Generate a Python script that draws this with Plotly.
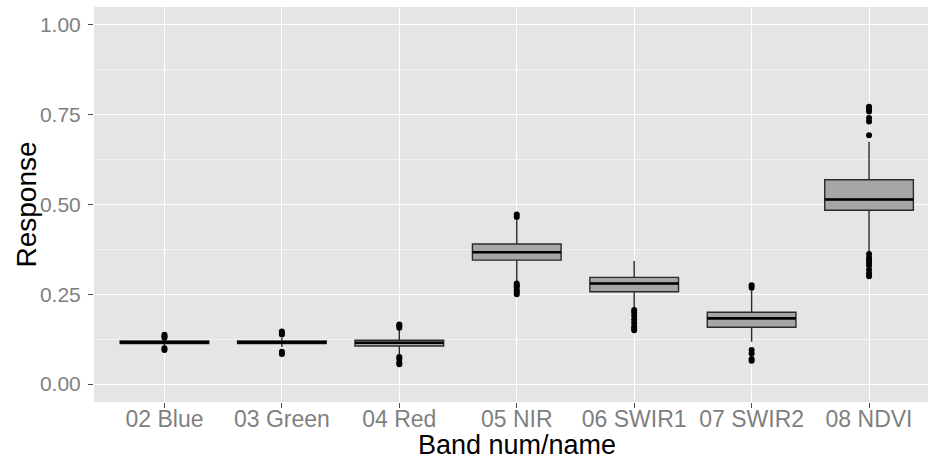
import plotly.graph_objects as go

categories = ["02 Blue", "03 Green", "04 Red", "05 NIR", "06 SWIR1", "07 SWIR2", "08 NDVI"]
q1 = [0.113, 0.113, 0.106, 0.345, 0.257, 0.158, 0.484]
median = [0.116, 0.116, 0.115, 0.367, 0.280, 0.183, 0.514]
q3 = [0.120, 0.120, 0.122, 0.390, 0.297, 0.200, 0.569]
lower_whisker = [0.105, 0.103, 0.082, 0.285, 0.213, 0.118, 0.370]
upper_whisker = [0.126, 0.128, 0.152, 0.456, 0.343, 0.260, 0.675]

outlier_cat = (["02 Blue"] * 5 + ["03 Green"] * 5 + ["04 Red"] * 7 + ["05 NIR"] * 8
               + ["06 SWIR1"] * 8 + ["07 SWIR2"] * 6 + ["08 NDVI"] * 14)
outlier_val = ([0.129, 0.133, 0.137, 0.095, 0.100,
                0.138, 0.142, 0.146, 0.084, 0.090,
                0.157, 0.162, 0.166, 0.075, 0.070, 0.060, 0.055,
                0.465, 0.472, 0.280, 0.275, 0.270, 0.262, 0.256, 0.250,
                0.206, 0.199, 0.190, 0.180, 0.170, 0.160, 0.155, 0.150,
                0.268, 0.275, 0.095, 0.085, 0.070, 0.065,
                0.693, 0.731, 0.741, 0.759, 0.766, 0.772,
                0.362, 0.352, 0.345, 0.338, 0.330, 0.318, 0.308, 0.300])

y_ticks = [0.0, 0.25, 0.5, 0.75, 1.0]
y_ticktext = ["0.00", "0.25", "0.50", "0.75", "1.00"]

box_width = 0.755
xpos = list(range(len(categories)))
cat_index = {c: i for i, c in enumerate(categories)}

fig = go.Figure()
fig.add_trace(go.Box(
    x=xpos, q1=q1, median=median, q3=q3,
    lowerfence=lower_whisker, upperfence=upper_whisker,
    width=box_width, whiskerwidth=0, boxpoints=False,
    fillcolor="#a6a6a6", line=dict(color="#2b2b2b", width=1.4),
    showlegend=False, hoverinfo="skip",
))
# thicker median bars
mx, my = [], []
for i, m in enumerate(median):
    mx += [i - box_width / 2, i + box_width / 2, None]
    my += [m, m, None]
fig.add_trace(go.Scatter(x=mx, y=my, mode="lines", line=dict(color="black", width=2.6),
                         showlegend=False, hoverinfo="skip"))
fig.add_trace(go.Scatter(
    x=[cat_index[c] for c in outlier_cat], y=outlier_val, mode="markers",
    marker=dict(color="black", size=6), showlegend=False, hoverinfo="skip"))

font_family = "Liberation Sans, Arial, sans-serif"
fig.update_layout(
    width=928, height=461,
    margin=dict(l=94, r=0, t=7, b=59, autoexpand=False),
    paper_bgcolor="white", plot_bgcolor="#e5e5e5",
    font=dict(family=font_family),
    xaxis=dict(range=[-0.6, 6.502], tickmode="array", tickvals=xpos, ticktext=categories,
               showgrid=True, gridcolor="white", gridwidth=1.2, zeroline=False, automargin=False,
               ticks="outside", ticklen=5, tickcolor="#4d4d4d", tickwidth=1,
               ticklabelstandoff=-9,
               tickfont=dict(size=23, color="#7f7f7f", family=font_family), showline=False),
    yaxis=dict(range=[-0.05, 1.05], tickmode="array", tickvals=y_ticks, ticktext=y_ticktext,
               showgrid=True, gridcolor="white", gridwidth=1.2, zeroline=False, automargin=False,
               ticks="outside", ticklen=5, tickcolor="#4d4d4d", tickwidth=1,
               ticklabelstandoff=3,
               tickfont=dict(size=21, color="#7f7f7f", family=font_family), showline=False,
               minor=dict(tickmode="array", tickvals=[0.125, 0.375, 0.625, 0.875],
                          showgrid=True, gridcolor="#f2f2f2", gridwidth=0.6, ticks="")),
    annotations=[
        dict(text="Band num/name", xref="x", x=3, yref="paper", y=-0.1494,
             xanchor="center", yanchor="bottom", showarrow=False, borderpad=0,
             font=dict(size=27, color="black", family=font_family)),
        dict(text="Response", xref="paper", x=-0.0815, yref="paper", y=0.5,
             xanchor="center", yanchor="middle", textangle=-90, showarrow=False,
             font=dict(size=28, color="black", family=font_family)),
    ],
)
fig.write_html("out.html", config={"displayModeBar": False},
               post_script="document.body.style.margin='0';document.body.style.overflow='hidden';")
